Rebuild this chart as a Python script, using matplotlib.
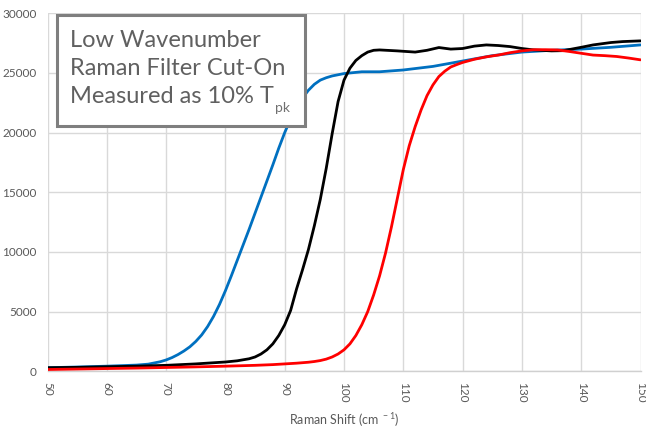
import matplotlib
matplotlib.use("Agg")
import matplotlib.pyplot as plt
from matplotlib.patches import Rectangle

# ---- data ----
blue_x = [50, 55, 60, 65, 67, 69, 70, 71, 72, 73, 74, 75, 76, 77, 78, 79, 80, 81, 82, 83, 84,
          85, 86, 87, 88, 89, 90, 91, 92, 93, 94, 95, 96, 97, 98, 99, 100, 103, 106, 110,
          115, 120, 125, 130, 135, 140, 145, 150]
blue_y = [300, 360, 430, 520, 600, 800, 950, 1150, 1400, 1700, 2050, 2500, 3050, 3750, 4600,
          5600, 6750, 8000, 9300, 10600, 11900, 13250, 14600, 15950, 17300, 18700, 20000,
          21150, 22100, 22900, 23550, 24050, 24400, 24600, 24750, 24850, 24950, 25100, 25100,
          25250, 25550, 26000, 26450, 26750, 26900, 27000, 27150, 27350]

black_x = [50, 55, 60, 65, 70, 75, 80, 82, 84, 85, 86, 87, 88, 89, 90, 91, 92, 93, 94, 95,
           96, 97, 98, 99, 100, 101, 102, 103, 104, 105, 106, 109, 112, 114, 116, 118, 120,
           122, 124, 126, 128, 130, 132, 135, 137, 140, 142, 145, 147, 150]
black_y = [300, 330, 380, 430, 500, 620, 780, 880, 1050, 1200, 1450, 1800, 2300, 3000, 3900,
           5100, 6900, 8500, 10200, 12200, 14400, 17000, 19900, 22600, 24400, 25400, 26050,
           26450, 26750, 26900, 26930, 26850, 26750, 26900, 27130, 27000, 27050, 27250, 27350,
           27300, 27210, 27050, 26930, 26850, 26870, 27150, 27350, 27550, 27630, 27690]

red_x = [50, 55, 60, 65, 70, 75, 80, 85, 88, 90, 92, 94, 95, 96, 97, 98, 99, 100, 101, 102,
         103, 104, 105, 106, 107, 108, 109, 110, 111, 112, 113, 114, 115, 116, 117, 118, 119,
         120, 122, 124, 126, 128, 130, 132, 134, 136, 138, 140, 142, 144, 146, 148, 150]
red_y = [150, 190, 230, 270, 320, 370, 430, 500, 560, 620, 680, 760, 820, 900, 1020, 1200,
         1450, 1800, 2300, 3000, 3900, 5000, 6400, 8000, 9900, 12100, 14500, 16900, 18900,
         20500, 21900, 23100, 24000, 24700, 25150, 25500, 25700, 25880, 26150, 26350, 26500,
         26700, 26850, 26950, 26950, 26930, 26800, 26650, 26500, 26450, 26380, 26250, 26100]

x_ticks = list(range(50, 151, 10))
y_ticks = list(range(0, 30001, 5000))
x_label = "Raman Shift (cm$^{\\ -1}$)"
title_lines = ["Low Wavenumber", "Raman Filter Cut-On", "Measured as 10% T"]
title_sub = "pk"

# ---- figure ----
plt.rcParams['font.family'] = ['Lato', 'DejaVu Sans']
plt.rcParams['mathtext.default'] = 'regular'

W, H = 646, 433
fig = plt.figure(figsize=(W / 100, H / 100), dpi=100)
L, R, T, B = 47.5, 640.5, 13.3, 371.3
ax = fig.add_axes([L / W, 1 - B / H, (R - L) / W, (B - T) / H])

ax.plot(blue_x, blue_y, color='#0070c0', lw=2.0, solid_capstyle='round', zorder=3)
ax.plot(black_x, black_y, color='#000000', lw=2.0, solid_capstyle='round', zorder=3)
ax.plot(red_x, red_y, color='#ff0000', lw=2.0, solid_capstyle='round', zorder=3)

ax.set_xlim(50, 150)
ax.set_ylim(0, 30000)
ax.set_xticks(x_ticks)
ax.set_yticks(y_ticks)
ax.set_xticklabels([str(t) for t in x_ticks], rotation=270)
ax.set_yticklabels([str(t) for t in y_ticks])
ax.grid(True, color='#d9d9d9', lw=1.0)
ax.set_axisbelow(True)
for s in ['top', 'right', 'left']:
    ax.spines[s].set_visible(False)
ax.spines['bottom'].set_color('#d0d0d0')
ax.spines['bottom'].set_linewidth(1.0)
ax.tick_params(axis='both', length=0, labelsize=8.5, colors='#595959')
ax.tick_params(axis='x', pad=8)
ax.tick_params(axis='y', pad=8)
ax.set_xlabel(x_label, fontsize=9, color='#595959', labelpad=6)

# ---- annotation box ----
box = Rectangle((57 / W, 1 - 126 / H), (305 - 57) / W, (126 - 15) / H,
                transform=fig.transFigure, facecolor='white', edgecolor='#7f7f7f',
                lw=2.2, zorder=10)
fig.patches.append(box)
baselines = [47, 75, 103]
texts = []
for line, b in zip(title_lines, baselines):
    t = fig.text(70 / W, 1 - b / H, line, fontsize=17, color='#606060', fontweight='normal',
                 ha='left', va='baseline', zorder=11)
    texts.append(t)
fig.canvas.draw()
bb = texts[2].get_window_extent()
fig.text((bb.x1 + 1) / W, 1 - 112 / H, title_sub, fontsize=10, color='#707070',
         ha='left', va='baseline', zorder=11)

fig.savefig('out.png', dpi=100)
